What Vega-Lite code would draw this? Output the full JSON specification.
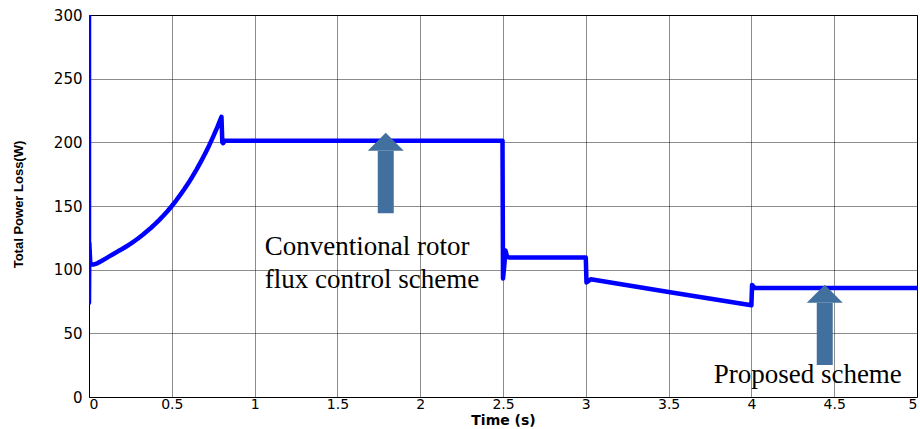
{
  "$schema": "https://vega.github.io/schema/vega-lite/v6.json",
  "autosize": "none",
  "padding": {"left": 89, "top": 15, "right": 3, "bottom": 32},
  "width": 828,
  "height": 382,
  "background": "white",
  "config": {
    "view": {"stroke": "black", "strokeWidth": 1},
    "axis": {
      "grid": true,
      "gridColor": "#000000",
      "gridDash": [1, 1],
      "gridOpacity": 0.9,
      "gridWidth": 1,
      "ticks": false,
      "domain": false,
      "labelFont": "DejaVu Sans",
      "labelFontSize": 15,
      "labelColor": "#000000",
      "titleColor": "#000000"
    }
  },
  "datasets": {
    "power": [
      {"i": 0, "t": 0, "p": 300},
      {"i": 1, "t": 0, "p": 74},
      {"i": 2, "t": 0.002, "p": 121},
      {"i": 3, "t": 0.008, "p": 104},
      {"i": 4, "t": 0.025, "p": 104},
      {"i": 5, "t": 0.05, "p": 105},
      {"i": 6, "t": 0.075, "p": 106.8},
      {"i": 7, "t": 0.1, "p": 108.7},
      {"i": 8, "t": 0.125, "p": 110.6},
      {"i": 9, "t": 0.15, "p": 112.5},
      {"i": 10, "t": 0.175, "p": 114.4},
      {"i": 11, "t": 0.2, "p": 116.2},
      {"i": 12, "t": 0.225, "p": 118.2},
      {"i": 13, "t": 0.25, "p": 120.2},
      {"i": 14, "t": 0.275, "p": 122.5},
      {"i": 15, "t": 0.3, "p": 124.9},
      {"i": 16, "t": 0.325, "p": 127.4},
      {"i": 17, "t": 0.35, "p": 130.1},
      {"i": 18, "t": 0.375, "p": 132.9},
      {"i": 19, "t": 0.4, "p": 135.9},
      {"i": 20, "t": 0.425, "p": 139.1},
      {"i": 21, "t": 0.45, "p": 142.5},
      {"i": 22, "t": 0.475, "p": 146.1},
      {"i": 23, "t": 0.5, "p": 150},
      {"i": 24, "t": 0.525, "p": 154.1},
      {"i": 25, "t": 0.55, "p": 158.5},
      {"i": 26, "t": 0.575, "p": 163.1},
      {"i": 27, "t": 0.6, "p": 168},
      {"i": 28, "t": 0.625, "p": 173.2},
      {"i": 29, "t": 0.65, "p": 178.7},
      {"i": 30, "t": 0.675, "p": 184.6},
      {"i": 31, "t": 0.7, "p": 190.8},
      {"i": 32, "t": 0.725, "p": 197.4},
      {"i": 33, "t": 0.75, "p": 204.5},
      {"i": 34, "t": 0.775, "p": 212},
      {"i": 35, "t": 0.8, "p": 220},
      {"i": 36, "t": 0.805, "p": 200},
      {"i": 37, "t": 0.81, "p": 199.3},
      {"i": 38, "t": 0.82, "p": 201.2},
      {"i": 39, "t": 2.497, "p": 201.2},
      {"i": 40, "t": 2.5, "p": 93},
      {"i": 41, "t": 2.507, "p": 102},
      {"i": 42, "t": 2.515, "p": 115},
      {"i": 43, "t": 2.525, "p": 110},
      {"i": 44, "t": 2.54, "p": 109.5},
      {"i": 45, "t": 3.0, "p": 109.5},
      {"i": 46, "t": 3.004, "p": 90},
      {"i": 47, "t": 3.03, "p": 92.4},
      {"i": 48, "t": 3.5, "p": 82.4},
      {"i": 49, "t": 4.0, "p": 72},
      {"i": 50, "t": 4.004, "p": 88},
      {"i": 51, "t": 4.02, "p": 85.6},
      {"i": 52, "t": 5.0, "p": 85.6}
    ],
    "arrows": [
      {"x": 1.792, "bottom": 144.3, "base": 193.4},
      {"x": 4.443, "bottom": 25.1, "base": 74.1}
    ],
    "notes": [
      {"x": 1.061, "y": 111.5, "label": "Conventional rotor\nflux control scheme"},
      {"x": 3.772, "y": 10.8, "label": "Proposed scheme"}
    ]
  },
  "layer": [
    {
      "data": {"name": "power"},
      "mark": {"type": "line", "color": "#0000ff", "strokeWidth": 4.5, "strokeJoin": "round", "strokeCap": "round", "clip": true},
      "encoding": {
        "x": {
          "field": "t", "type": "quantitative",
          "scale": {"domain": [0, 5], "nice": false, "zero": false},
          "axis": {
            "values": [0, 0.5, 1, 1.5, 2, 2.5, 3, 3.5, 4, 4.5, 5],
            "format": "~g",
            "labelPadding": 0,
            "labelFontSize": 14,
            "title": "Time (s)",
            "titleFont": "DejaVu Sans",
            "titleFontSize": 14,
            "titleFontWeight": "bold",
            "titleBaseline": "alphabetic",
            "titleY": 27.5
          }
        },
        "y": {
          "field": "p", "type": "quantitative",
          "scale": {"domain": [0, 300], "nice": false},
          "axis": {
            "values": [0, 50, 100, 150, 200, 250, 300],
            "labelPadding": 7,
            "title": "Total Power Loss(W)",
            "titleFont": "Liberation Sans",
            "titleFontSize": 13,
            "titleFontWeight": "bold",
            "titleAngle": 270,
            "titleAlign": "center",
            "titleBaseline": "middle",
            "titleX": -71,
            "titleY": 189
          }
        },
        "order": {"field": "i", "type": "quantitative"}
      }
    },
    {
      "data": {"name": "arrows"},
      "mark": {"type": "rule", "color": "#42709e", "strokeWidth": 16, "strokeCap": "butt"},
      "encoding": {
        "x": {"field": "x", "type": "quantitative"},
        "y": {"field": "bottom", "type": "quantitative"},
        "y2": {"field": "base"}
      }
    },
    {
      "data": {"name": "arrows"},
      "mark": {"type": "point", "shape": "M-1,0L0,-1L1,0Z", "filled": true, "color": "#42709e", "opacity": 1, "size": 1296, "strokeWidth": 0},
      "encoding": {
        "x": {"field": "x", "type": "quantitative"},
        "y": {"field": "base", "type": "quantitative"}
      }
    },
    {
      "data": {"name": "notes"},
      "mark": {"type": "text", "font": "Liberation Serif", "fontSize": 27, "align": "left", "baseline": "alphabetic", "lineBreak": "\n", "lineHeight": 33, "color": "#000000"},
      "encoding": {
        "x": {"field": "x", "type": "quantitative"},
        "y": {"field": "y", "type": "quantitative"},
        "text": {"field": "label"}
      }
    }
  ]
}
